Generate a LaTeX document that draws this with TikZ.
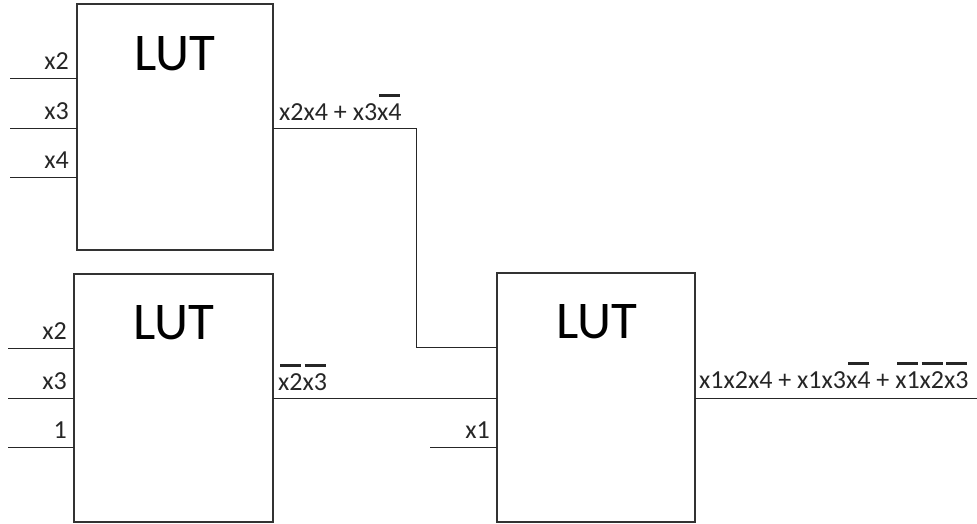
\documentclass[tikz,border=0pt]{standalone}
\usepackage{fontspec}
\setmainfont{Carlito}
\newcommand\ovl[1]{\setbox0\hbox{#1}\leavevmode\vbox{\offinterlineskip\hbox to\wd0{\hskip2pt\leaders\hrule height 3pt\hfill\hskip1.5pt}\kern6pt\box0}}
\begin{document}
\begin{tikzpicture}[x=1pt,y=-1pt,
  lut/.style={draw=black!80, line width=1.2pt, rectangle, inner sep=0pt, outer sep=0pt},
  wire/.style={draw=black!85, line width=1pt},
  lbl/.style={font=\fontsize{26}{30}\selectfont, inner sep=0pt, text=black!85},
  big/.style={font=\fontsize{53}{60}\selectfont, inner sep=0pt, text=black},
]
\useasboundingbox (0,0) rectangle (977,523);
% boxes
\node[lut, minimum width=196pt, minimum height=246pt] (A) at (175,127) {};
\node[lut, minimum width=199pt, minimum height=248pt] (B) at (173.5,398) {};
\node[lut, minimum width=198pt, minimum height=249pt] (C) at (596,397.5) {};
% LUT titles
\node[big, anchor=base] (tA) at (175,70) {LUT};
\node[big, anchor=base] (tB) at (174,339) {LUT};
\node[big, anchor=base] (tC) at (597,338) {LUT};
% inputs of A
\coordinate (a1) at (10,78);
\coordinate (a2) at (10,128);
\coordinate (a3) at (10,177);
\draw[wire] (a1) -- (a1 -| A.west);
\draw[wire] (a2) -- (a2 -| A.west);
\draw[wire] (a3) -- (a3 -| A.west);
\node[lbl, anchor=base east] (la1) at (69,69) {x2};
\node[lbl, anchor=base east] (la2) at (69,119) {x3};
\node[lbl, anchor=base east] (la3) at (69,168) {x4};
% inputs of B
\coordinate (b1) at (8,348);
\coordinate (b2) at (8,398);
\coordinate (b3) at (8,447);
\draw[wire] (b1) -- (b1 -| B.west);
\draw[wire] (b2) -- (b2 -| B.west);
\draw[wire] (b3) -- (b3 -| B.west);
\node[lbl, anchor=base east] (lb1) at (67,339) {x2};
\node[lbl, anchor=base east] (lb2) at (67,389) {x3};
\node[lbl, anchor=base east] (lb3) at (67,438) {1};
% input x1 of C
\coordinate (c3) at (430,447);
\draw[wire] (c3) -- (c3 -| C.west);
\node[lbl, anchor=base east] (lc3) at (490,438) {x1};
% A output to C
\coordinate (ka) at (416,128);
\coordinate (kb) at (416,347);
\draw[wire] (ka -| A.east) -- (ka) -- (kb) -- (kb -| C.west);
\node[lbl, anchor=base west] (oa) at (279,120) {x2x4 + x3\ovl{x4}};
% B output to C
\coordinate (kc) at (355,398);
\draw[wire] (kc -| B.east) -- (kc -| C.west);
\node[lbl, anchor=base west] (ob) at (278,390) {\ovl{x2}\ovl{x3}};
% C output
\coordinate (out) at (977,398);
\draw[wire] (out -| C.east) -- (out);
\node[lbl, anchor=base west] (oc) at (699,388) {x1x2x4 + x1x3\ovl{x4} + \ovl{x1}\ovl{x2}\ovl{x3}};
\end{tikzpicture}
\end{document}
